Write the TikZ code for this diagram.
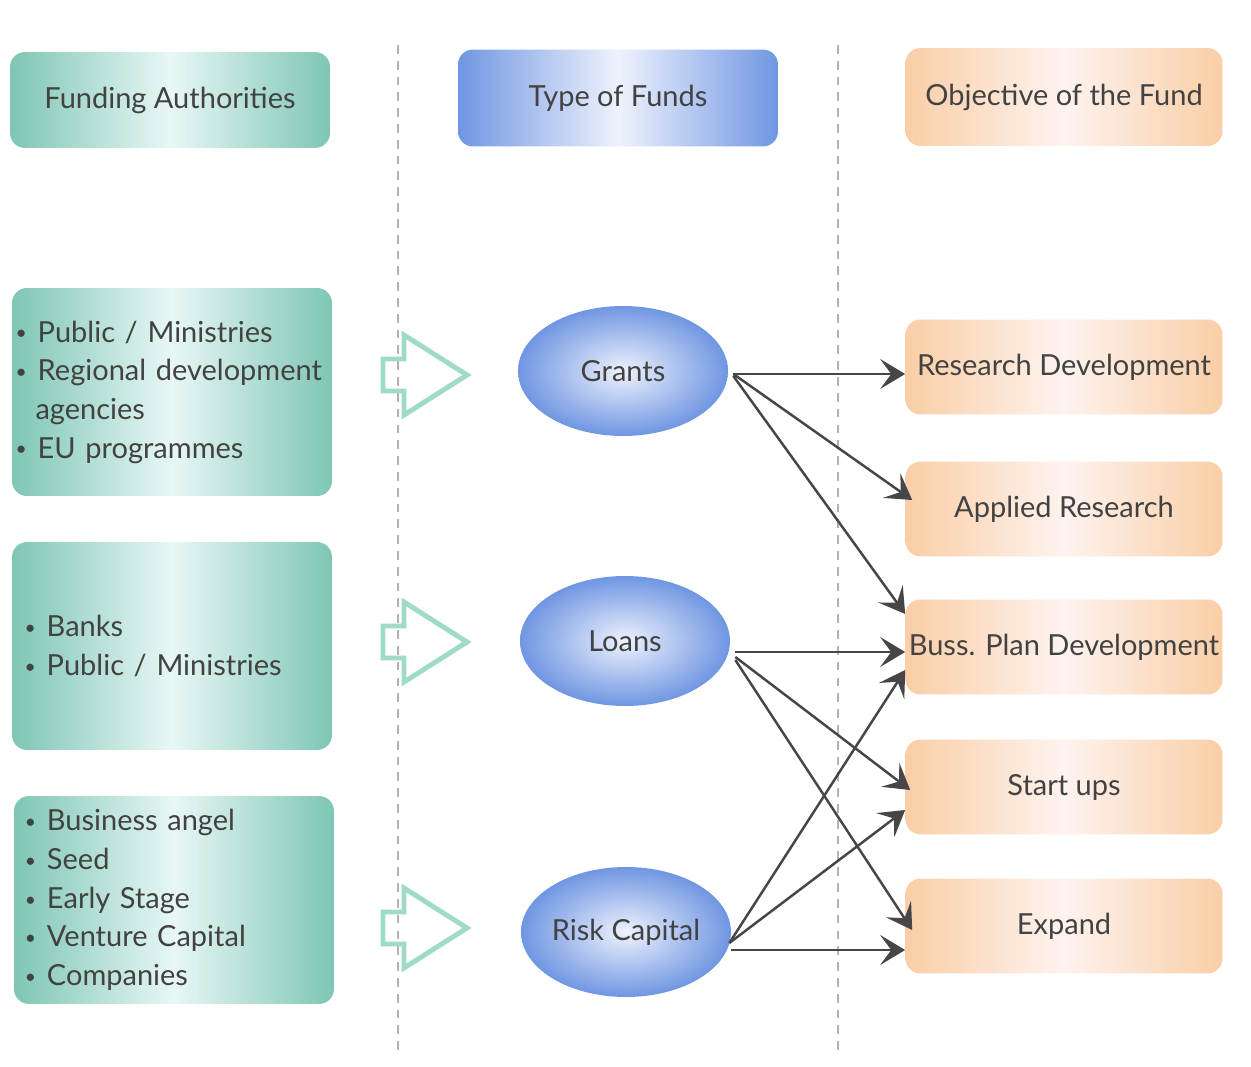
\documentclass[tikz,border=0pt]{standalone}
\usepackage{fontspec}
\setmainfont{Lato}
\usetikzlibrary{arrows.meta,calc,shapes.geometric}

\definecolor{tealedge}{RGB}{126,198,180}
\definecolor{tealmid}{RGB}{232,247,246}
\definecolor{blueedge}{RGB}{112,150,226}
\definecolor{bluemid}{RGB}{238,242,253}
\definecolor{orangeedge}{RGB}{250,206,166}
\definecolor{orangemid}{RGB}{254,243,239}
\definecolor{textgray}{RGB}{66,66,66}
\definecolor{linkgray}{RGB}{70,70,72}
\definecolor{dashgray}{RGB}{178,178,178}
\definecolor{hollowteal}{RGB}{160,218,202}

\newcommand{\listdot}{\raisebox{1.2pt}{\fontsize{11}{22}\selectfont•}\hspace{0.22cm}}

\begin{document}
\begin{tikzpicture}[x = 0.02cm, y = -0.02cm,
    every node/.style = {text = textgray, font = \fontsize{16.5}{22}\selectfont},
    greenbox/.style = {rounded corners = 0.3cm, minimum width = 6.4cm,
        left color = tealedge, right color = tealedge, middle color = tealmid},
    bluebox/.style = {rounded corners = 0.3cm, minimum width = 6.4cm, minimum height = 1.94cm,
        left color = blueedge, right color = blueedge, middle color = bluemid},
    orangebox/.style = {rounded corners = 0.3cm, minimum width = 6.34cm, minimum height = 1.9cm,
        inner xsep = 1pt, left color = orangeedge, right color = orangeedge, middle color = orangemid},
    listbox/.style = {greenbox, minimum height = 4.16cm, align = left},
    fundtype/.style = {ellipse, minimum width = 4.2cm, minimum height = 2.6cm, inner sep = 0pt,
        inner color = bluemid, outer color = blueedge},
    link/.style = {draw = linkgray, line width = 1.4pt,
        -{Stealth[length = 0.5cm, width = 0.6cm, inset = 0.22cm]}},
    hollowarrow/.style = {draw = hollowteal, line width = 2.8pt, line join = miter},
    divider/.style = {draw = dashgray, line width = 1pt, dash pattern = on 5pt off 4pt}]

    \fill[white] (0,0) rectangle (1251,1067);

    \draw[divider] (398,45) -- (398,1055);
    \draw[divider] (838,45) -- (838,1055);

    \node[greenbox, minimum height = 1.92cm] (authorities) at (170,100) {Funding Authorities};
    \node[bluebox] (fundtypes) at (618,98) {Type of Funds};
    \node[orangebox, minimum height = 1.96cm] (objective) at (1064,97) {Objective of the Fund};

    \node[listbox, inner xsep = 2pt, text width = 6.26cm] (public) at (172,392)
        {\listdot Public / Ministries\\\mbox{\listdot Regional development}\\\hspace*{0.4cm}agencies\\\listdot EU programmes};
    \node[listbox, inner xsep = 7pt, text width = 5.9cm] (banks) at (172,646)
        {\listdot Banks\\\listdot Public / Ministries};
    \node[listbox, inner xsep = 6pt, text width = 5.97cm] (private) at (174,900)
        {\listdot Business angel\\\listdot Seed\\\listdot Early Stage\\\listdot Venture Capital\\\listdot Companies};

    \foreach \y in {375,642,928}
        \draw[hollowarrow] (383,\y-16) -- (404,\y-16) -- (404,\y-40) -- (467,\y)
            -- (404,\y+40) -- (404,\y+16) -- (383,\y+16) -- cycle;

    \node[fundtype] (grants) at (623,371) {Grants};
    \node[fundtype] (loans) at (625,641) {Loans};
    \node[fundtype] (risk) at (626,932) {Risk Capital};

    \node[orangebox] (resdev) at (1064,367) {Research Development};
    \node[orangebox] (applied) at (1064,509) {Applied Research};
    \node[orangebox] (bussplan) at (1064,647) {Buss. Plan Development};
    \node[orangebox] (startups) at (1064,787) {Start ups};
    \node[orangebox] (expand) at (1064,926) {Expand};

    \draw[link] ($(grants.east)+(5,3)$) -- ($(resdev.west)+(0,7)$);
    \draw[link] ($(grants.east)+(5,3)$) -- ($(applied.west)+(7,-9)$);
    \draw[link] ($(grants.east)+(5,5)$) -- ($(bussplan.west)+(0,-33)$);
    \draw[link] ($(loans.east)+(5,11)$) -- ($(bussplan.west)+(0,5)$);
    \draw[link] ($(loans.east)+(5,16)$) -- ($(startups.west)+(5,3)$);
    \draw[link] ($(loans.east)+(5,19)$) -- ($(expand.west)+(7,4)$);
    \draw[link] ($(risk.east)+(-2,11)$) -- ($(bussplan.west)+(0,23)$);
    \draw[link] ($(risk.east)+(-2,11)$) -- ($(startups.west)+(0,23)$);
    \draw[link] ($(risk.east)+(0,18)$) -- ($(expand.west)+(0,24)$);
\end{tikzpicture}
\end{document}
